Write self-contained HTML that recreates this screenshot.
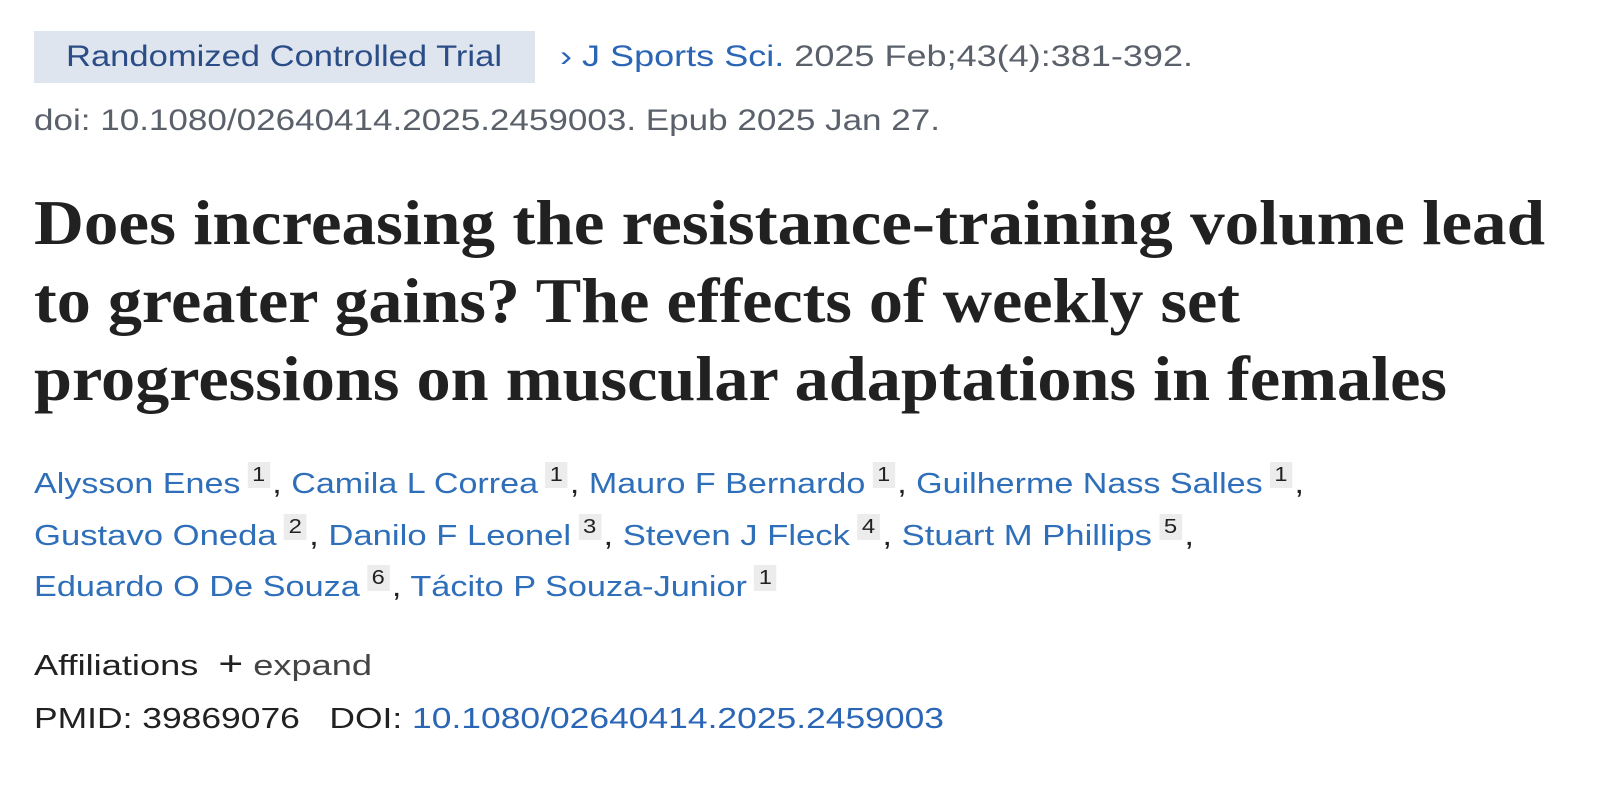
<!DOCTYPE html>
<html><head><meta charset="utf-8"><style>
html,body{margin:0;padding:0;background:#fff;width:1620px;height:795px;overflow:hidden}
body{font-family:"Liberation Sans",sans-serif;position:relative}
.abs{position:absolute;white-space:nowrap;transform-origin:0 50%}
.badge{position:absolute;left:34px;top:31px;width:501px;height:52px;background:#dfe5ee}
.blue{color:#2a66b5}
.gray{color:#5b616b}
.t{font-family:"Liberation Serif",serif;font-weight:bold;font-size:64px;color:#212121}
.a{font-size:29px;color:#2f6fba}
.s{display:inline-block;background:#ececec;color:#212121;font-size:20px;padding:0 4px;vertical-align:top;margin:0 2px 0 6px;line-height:26px;position:relative;top:-6px}
.k{color:#212121}
</style></head><body>
<div class="badge"></div>
<div class="abs" style="left:66px;top:40px;font-size:30px;color:#2b4d87" data-w="436">Randomized Controlled Trial</div>
<div class="abs" style="left:560px;top:40px;font-size:30px" data-w="633"><span class="blue">›&nbsp;J Sports Sci.</span> <span class="gray">2025 Feb;43(4):381-392.</span></div>
<div class="abs gray" style="left:34px;top:104px;font-size:30px" data-w="906">doi: 10.1080/02640414.2025.2459003. Epub 2025 Jan 27.</div>
<div class="abs t" style="left:34px;top:186px" data-w="1511">Does increasing the resistance-training volume lead</div>
<div class="abs t" style="left:34px;top:264px" data-w="1206">to greater gains? The effects of weekly set</div>
<div class="abs t" style="left:34px;top:342px" data-w="1413">progressions on muscular adaptations in females</div>
<div class="abs a" style="left:34px;top:468px" data-w="1270">Alysson Enes<span class="s">1</span><span class="k">,</span> Camila L Correa<span class="s">1</span><span class="k">,</span> Mauro F Bernardo<span class="s">1</span><span class="k">,</span> Guilherme Nass Salles<span class="s">1</span><span class="k">,</span></div>
<div class="abs a" style="left:34px;top:520px" data-w="1160">Gustavo Oneda<span class="s">2</span><span class="k">,</span> Danilo F Leonel<span class="s">3</span><span class="k">,</span> Steven J Fleck<span class="s">4</span><span class="k">,</span> Stuart M Phillips<span class="s">5</span><span class="k">,</span></div>
<div class="abs a" style="left:34px;top:571px" data-w="745">Eduardo O De Souza<span class="s">6</span><span class="k">,</span> Tácito P Souza-Junior<span class="s">1</span></div>
<div class="abs" style="left:34px;top:645px;font-size:29px;color:#212121" data-w="338">Affiliations&nbsp;&nbsp;<span style="font-size:34px">+</span> <span style="color:#444">expand</span></div>
<div class="abs" style="left:34px;top:703px;font-size:29px;color:#212121" data-w="910">PMID: 39869076&nbsp;&nbsp;&nbsp;DOI: <span class="blue">10.1080/02640414.2025.2459003</span></div>
<script>
document.querySelectorAll('[data-w]').forEach(function(e){
  var w=e.getBoundingClientRect().width, t=+e.getAttribute('data-w');
  if(w>0) e.style.transform='scaleX('+(t/w)+')';
});
</script>
</body></html>
